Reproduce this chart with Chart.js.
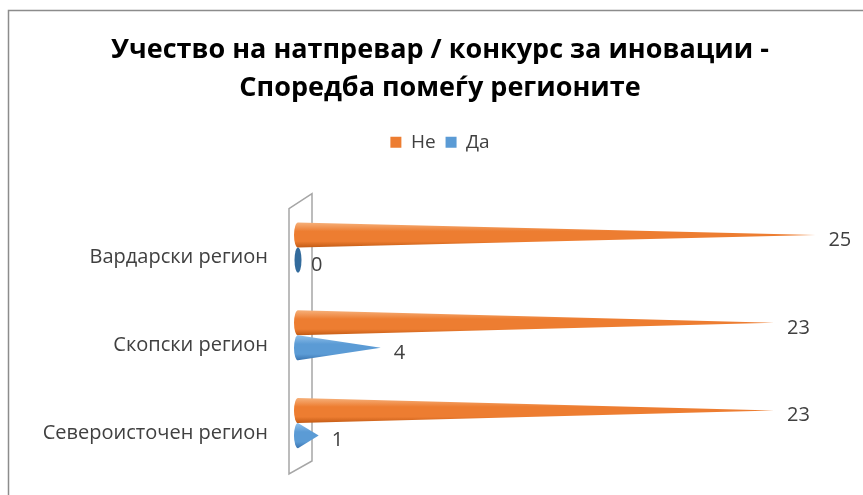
<!DOCTYPE html>
<html>
<head>
<meta charset="utf-8">
<script src="https://cdn.jsdelivr.net/npm/chart.js@4.4.1/dist/chart.umd.min.js"></script>
<style>
  html, body { margin: 0; padding: 0; background: #fff; }
  #wrap { width: 863px; height: 495px; }
</style>
</head>
<body>
<div id="wrap"><canvas id="c" width="863" height="495"></canvas></div>
<script>
// ── data ──
const regions = ['Вардарски регион', 'Скопски регион', 'Североисточен регион'];
const valuesNe = [25, 23, 23];
const valuesDa = [0, 4, 1];
const titleLines = ['Учество на натпревар / конкурс за иновации -', 'Споредба помеѓу регионите'];
const axisMax = 27.3;

const FONT = "'Open Sans', 'Liberation Sans', sans-serif";
const TEXT = '#404040';

// cone colours: [top highlight, mid, bottom shade]
const shades = {
  Ne: ['#f6b07a', '#ed7d31', '#c25a14'],
  Da: ['#8fbfe9', '#5b9bd5', '#3a74b0']
};

// ── outer frame (chart border cut off on the right/bottom) ──
const framePlugin = {
  id: 'frame',
  beforeDraw(chart) {
    const ctx = chart.ctx;
    ctx.save();
    ctx.strokeStyle = '#8c8c8c';
    ctx.lineWidth = 1.5;
    ctx.beginPath();
    ctx.moveTo(8.5, chart.height);
    ctx.lineTo(8.5, 10.5);
    ctx.lineTo(chart.width, 10.5);
    ctx.stroke();
    ctx.restore();
  }
};

// ── 3D side wall behind the base of the cones ──
const wallPlugin = {
  id: 'wall',
  beforeDatasetsDraw(chart) {
    const ctx = chart.ctx;
    const x0 = chart.scales.x.getPixelForValue(0);
    const a = chart.chartArea;
    const fx = x0 - 9, bx = x0 + 14;
    ctx.save();
    ctx.strokeStyle = '#a6a6a6';
    ctx.lineWidth = 1.5;
    ctx.beginPath();
    ctx.moveTo(fx, a.top + 5);
    ctx.lineTo(bx, a.top - 10);
    ctx.lineTo(bx, a.bottom - 6);
    ctx.lineTo(fx, a.bottom + 7);
    ctx.closePath();
    ctx.stroke();
    ctx.restore();
  }
};

// ── cones drawn from the bar elements ──
const conePlugin = {
  id: 'cones',
  afterDatasetsDraw(chart) {
    const ctx = chart.ctx;
    chart.data.datasets.forEach((ds, di) => {
      const meta = chart.getDatasetMeta(di);
      const sh = shades[ds.key];
      meta.data.forEach((el, i) => {
        const { x, y, base, height } = el.getProps(['x', 'y', 'base', 'height'], true);
        const r = height / 2, rx = 4;
        ctx.save();
        if (ds.data[i] === 0) {
          ctx.fillStyle = '#336b9c';
          ctx.beginPath();
          ctx.ellipse(base, y, 3.5, r, 0, 0, Math.PI * 2);
          ctx.fill();
        } else {
          const g = ctx.createLinearGradient(0, y - r, 0, y + r);
          g.addColorStop(0, sh[0]);
          g.addColorStop(0.35, sh[1]);
          g.addColorStop(0.75, sh[1]);
          g.addColorStop(1, sh[2]);
          ctx.fillStyle = g;
          ctx.beginPath();
          ctx.moveTo(base, y - r);
          ctx.lineTo(x, y);
          ctx.lineTo(base, y + r);
          ctx.ellipse(base, y, rx, r, 0, Math.PI / 2, Math.PI * 1.5);
          ctx.closePath();
          ctx.fill();
        }
        // value label
        ctx.fillStyle = TEXT;
        ctx.font = '20px ' + FONT;
        ctx.textAlign = 'left';
        ctx.textBaseline = 'middle';
        ctx.fillText(String(ds.data[i]), x + 13, y + 5);
        ctx.restore();
      });
    });
  }
};

new Chart(document.getElementById('c'), {
  type: 'bar',
  data: {
    labels: regions,
    datasets: [
      { key: 'Ne', label: 'Не', data: valuesNe, backgroundColor: 'rgba(0,0,0,0)', legendColor: '#ed7d31',
        categoryPercentage: 0.57, barPercentage: 1.0 },
      { key: 'Da', label: 'Да', data: valuesDa, backgroundColor: 'rgba(0,0,0,0)', legendColor: '#5b9bd5',
        categoryPercentage: 0.57, barPercentage: 1.0 }
    ]
  },
  options: {
    indexAxis: 'y',
    responsive: false,
    animation: false,
    layout: { padding: { left: 17, right: 0, top: 0, bottom: 28 } },
    plugins: {
      title: {
        display: true,
        text: titleLines,
        color: '#000',
        font: { family: FONT, size: 27, weight: 'bold', lineHeight: 1.42 },
        padding: { top: 31, bottom: 15 }
      },
      legend: {
        position: 'top',
        labels: {
          color: TEXT,
          font: { family: FONT, size: 19 },
          boxWidth: 11, boxHeight: 11,
          padding: 10,
          generateLabels: chart => chart.data.datasets.map((ds, i) => ({
            text: ds.label, fillStyle: ds.legendColor, strokeStyle: ds.legendColor,
            lineWidth: 0, datasetIndex: i, fontColor: TEXT
          }))
        }
      },
      tooltip: { enabled: false }
    },
    scales: {
      x: {
        position: 'top',
        min: 0, max: axisMax,
        grid: { display: false, drawTicks: false },
        border: { display: false },
        ticks: { display: false },
        afterFit: s => { s.height = 42; }
      },
      y: {
        grid: { display: false, drawTicks: false },
        border: { display: false },
        ticks: { color: TEXT, font: { family: FONT, size: 20 }, padding: 30, labelOffset: 10 },
        afterFit: s => { s.width = 281; s.paddingTop = 0; s.paddingBottom = 0; }
      }
    }
  },
  plugins: [framePlugin, wallPlugin, conePlugin]
});
</script>
</body>
</html>
